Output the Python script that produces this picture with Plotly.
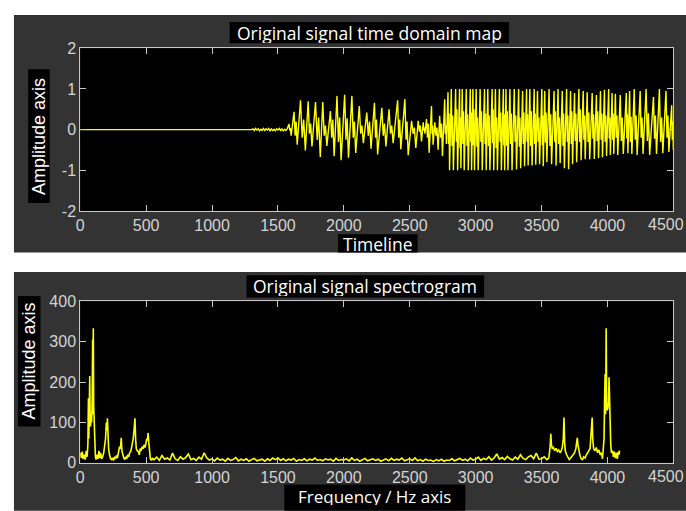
import plotly.graph_objects as go

W, H = 686, 511

# ---------------- time-domain signal ----------------
flat_t = [0, 1300]
flat_v = [0.0, 0.0]

noise_t0, noise_dt = 1310, 10
noise_v = [0.02, -0.02, 0.03, -0.01, 0.02, -0.03, 0.01, -0.02, 0.03, -0.02,
           0.02, -0.01, 0.03, -0.03, 0.02, -0.02, 0.01, -0.03, 0.02, -0.01,
           0.03, -0.02, 0.02, -0.03, 0.01, -0.02, 0.02]

A_pk_t = [1584, 1622, 1671, 1729, 1785, 1840, 1898, 1948, 2006, 2061, 2117, 2174, 2232,
          2288, 2343, 2408, 2463, 2514, 2564, 2602, 2627, 2665, 2690, 2727, 2765]
A_pk_v = [0.14, 0.44, 0.72, 0.70, 0.68, 0.68, 0.46, 0.83, 0.86, 0.83, 0.58, 0.42, 0.66,
          0.54, 0.50, 0.72, 0.75, 0.22, 0.22, 0.18, 0.26, 0.58, 0.18, 0.34, 0.75]
A_tr_t = [1600, 1646, 1708, 1758, 1821, 1871, 1926, 1979, 2035, 2090, 2148, 2206, 2256,
          2319, 2374, 2432, 2488, 2546, 2589, 2615, 2647, 2677, 2715, 2748, 2778]
A_tr_v = [-0.15, -0.37, -0.51, -0.41, -0.67, -0.40, -0.65, -0.75, -0.69, -0.57, -0.33, -0.47, -0.61,
          -0.41, -0.33, -0.48, -0.63, -0.45, -0.29, -0.10, -0.57, -0.37, -0.49, -0.65, -0.35]
A_lo = [-0.02, -0.15, -0.2, -0.1, -0.25, -0.15, -0.2, -0.3, -0.25, -0.2, -0.1, -0.15, -0.2,
        -0.15, -0.1, -0.2, -0.25, -0.1, -0.05, -0.02, -0.2, -0.1, -0.15, -0.2, -0.1]
A_hi = [0.04, 0.2, 0.25, 0.15, 0.3, 0.1, 0.25, 0.3, 0.28, 0.2, 0.1, 0.2, 0.25,
        0.15, 0.1, 0.25, 0.2, 0.05, 0.1, 0.05, 0.15, 0.1, 0.05, 0.15, 0.1]

B_pk_t = [2790, 2815, 2848, 2878, 2898, 2929, 2959, 2979, 3004, 3034, 3067, 3092, 3125, 3150,
          3180, 3210, 3230, 3260, 3293, 3326, 3356, 3386, 3411, 3444, 3469, 3502, 3524, 3557,
          3595, 3625, 3657, 3690, 3720, 3750, 3783, 3816, 3846, 3884, 3916, 3947, 3977, 4009,
          4035, 4060, 4097, 4143, 4168, 4203, 4248, 4293, 4349, 4394, 4444, 4487]
B_pk_v = [0.92, 1.0, 1.0, 1.0, 1.0, 1.0, 1.0, 1.0, 1.0, 1.0, 1.0, 1.0, 1.0, 1.0,
          1.0, 1.0, 1.0, 1.0, 1.0, 1.0, 0.95, 1.0, 1.0, 1.0, 0.95, 1.0, 0.95, 1.0,
          0.95, 1.0, 0.95, 1.0, 0.95, 0.9, 1.0, 0.95, 0.92, 0.9, 0.85, 0.95, 0.98, 1.0,
          0.9, 0.88, 0.85, 0.9, 0.95, 1.0, 0.95, 1.0, 0.8, 1.0, 0.95, 0.6]
B_tr_t = [2802, 2831, 2863, 2888, 2913, 2944, 2969, 2991, 3019, 3050, 3080, 3108, 3137, 3165,
          3195, 3220, 3245, 3276, 3310, 3341, 3371, 3398, 3428, 3456, 3485, 3513, 3540, 3576,
          3610, 3641, 3673, 3705, 3735, 3766, 3800, 3831, 3865, 3900, 3932, 3962, 3993, 4022,
          4048, 4078, 4120, 4155, 4185, 4225, 4270, 4320, 4372, 4420, 4466, 4500]
B_tr_v = [-1.0, -1.0, -1.0, -0.95, -1.0, -1.0, -1.0, -1.0, -1.0, -1.0, -1.0, -1.0, -1.0, -1.0,
          -1.0, -1.0, -1.0, -1.0, -0.98, -0.95, -0.9, -0.88, -0.88, -0.86, -0.85, -0.9, -0.8, -0.85,
          -0.88, -0.82, -0.95, -0.97, -0.85, -0.8, -0.75, -0.73, -0.73, -0.72, -0.7, -0.68, -0.65, -0.62,
          -0.6, -0.62, -0.6, -0.58, -0.6, -0.62, -0.6, -0.62, -0.6, -0.58, -0.55, -0.5]
B_lo = [-0.35, -0.4, -0.3, -0.45, -0.35, -0.4, -0.3, -0.38, -0.42, -0.3, -0.35, -0.4, -0.33, -0.45,
        -0.3, -0.38, -0.4, -0.35, -0.3, -0.42, -0.35, -0.3, -0.4, -0.35, -0.3, -0.38, -0.32, -0.4,
        -0.3, -0.35, -0.4, -0.3, -0.35, -0.28, -0.3, -0.25, -0.3, -0.22, -0.28, -0.25, -0.3, -0.22,
        -0.25, -0.2, -0.28, -0.22, -0.3, -0.25, -0.2, -0.28, -0.22, -0.3, -0.2, -0.25]
B_hi = [0.4, 0.35, 0.5, 0.3, 0.45, 0.38, 0.42, 0.5, 0.3, 0.45, 0.4, 0.35, 0.5, 0.3,
        0.42, 0.38, 0.45, 0.4, 0.35, 0.3, 0.42, 0.38, 0.45, 0.4, 0.3, 0.35, 0.42, 0.38,
        0.45, 0.3, 0.4, 0.35, 0.45, 0.4, 0.5, 0.35, 0.42, 0.38, 0.45, 0.4, 0.35, 0.3,
        0.4, 0.35, 0.3, 0.38, 0.32, 0.35, 0.3, 0.4, 0.35, 0.3, 0.35, 0.2]

# ---------------- spectrum ----------------
spec_lo_f = [0, 8, 15, 22, 30, 38, 45, 52, 58, 62, 65, 68, 72, 75, 78, 82, 86, 90, 94, 96,
             99, 102, 105, 110, 115, 120, 128, 135, 142, 148, 155, 162, 170, 178, 185, 192, 198, 203, 206, 210,
             215, 222, 230, 238, 245, 252, 260, 268, 275, 282, 290, 298, 305, 311, 316, 322, 330, 338, 345, 352,
             360, 368, 375, 385, 395, 402, 408, 415, 420, 425, 432, 440, 448, 455, 462, 470, 478, 485, 492, 500,
             505, 510, 515, 520, 525, 532, 540, 548, 556]
spec_lo_v = [25, 12, 28, 10, 20, 8, 30, 15, 45, 160, 60, 100, 215, 110, 90, 120, 100, 150, 305, 120,
             333, 140, 100, 40, 15, 8, 20, 10, 30, 12, 25, 10, 15, 25, 40, 60, 100, 80, 110, 60,
             35, 20, 10, 8, 12, 6, 15, 10, 18, 12, 25, 40, 35, 62, 30, 20, 12, 8, 15, 10,
             20, 15, 25, 30, 45, 60, 80, 110, 60, 35, 30, 28, 20, 35, 30, 40, 35, 45, 38, 50,
             60, 55, 74, 50, 20, 10, 6, 12, 8]
spec_mid_f0, spec_mid_df = 560, 20
spec_mid_v = [8, 14, 6, 18, 9, 12, 7, 24, 10, 6, 15, 9, 13, 22, 8, 11, 6, 14, 9, 25, 12, 7,
              10, 5, 12, 7, 9, 4, 11, 6, 8, 13, 5, 9, 6, 10, 4, 8, 11, 5, 7, 9, 4, 10, 6, 12, 8,
              12, 6, 10, 5, 9, 7, 11, 4, 8, 6, 10, 5, 9, 7, 12, 6, 8, 5, 10, 7, 9, 4, 11, 6, 8,
              7, 10, 5, 12, 6, 9, 4, 8, 11, 5, 7, 10, 6, 9, 4, 8, 10, 5, 11, 6, 9, 7, 12, 5, 8,
              10, 6, 12, 5, 8, 4, 9, 6, 7, 3, 8, 5, 9, 4, 7, 6, 10, 5, 8, 11, 6, 9, 5, 12, 7,
              9, 14, 6, 11, 8, 15, 7, 12, 22, 9, 13, 8, 16, 10, 7, 14, 9, 20, 11, 8, 15, 18, 10, 24, 9]
spec_hi_f = [3500, 3520, 3540, 3555, 3565, 3570, 3575, 3582, 3590, 3600, 3610, 3620, 3630, 3640, 3650,
             3658, 3665, 3670, 3675, 3680, 3690, 3700, 3710, 3720, 3730, 3740, 3750, 3760, 3766, 3771,
             3776, 3782, 3790, 3800, 3810, 3820, 3830, 3840, 3850, 3860, 3868, 3875, 3880, 3884, 3888,
             3895, 3905, 3915, 3925, 3935, 3945, 3955, 3962, 3968, 3974, 3978, 3982, 3986, 3990, 3994,
             3998, 4003, 4008, 4012, 4016, 4020, 4025, 4030, 4038, 4045, 4052, 4060, 4068, 4075, 4082,
             4088, 4092]
spec_hi_v = [10, 15, 8, 12, 40, 72, 45, 35, 38, 30, 36, 28, 32, 25, 30,
             40, 60, 112, 50, 30, 20, 12, 8, 12, 15, 20, 25, 35, 50, 62,
             45, 30, 20, 10, 8, 15, 12, 20, 25, 28, 35, 70, 100, 112, 60,
             35, 30, 38, 25, 32, 20, 25, 10, 30, 60, 150, 220, 120, 333, 140,
             130, 135, 150, 212, 130, 100, 45, 25, 30, 15, 28, 12, 25, 10, 28,
             20, 30]

# ---------------- ticks ----------------
x_ticks = [0, 500, 1000, 1500, 2000, 2500, 3000, 3500, 4000, 4500]
x_ticktext = [str(v) for v in x_ticks]
y1_ticks = [-2, -1, 0, 1, 2]
y1_ticktext = ["-2", "-1", "0", "1", "2"]
y2_ticks = [0, 100, 200, 300, 400]
y2_ticktext = ["0", "100", "200", "300", "400"]

# ---------------- build series ----------------
sig_t = list(flat_t)
sig_v = list(flat_v)
for i, v in enumerate(noise_v):
    sig_t.append(noise_t0 + i * noise_dt)
    sig_v.append(v)
for pk_t, pk_v, tr_t, tr_v, lo, hi in (
        (A_pk_t, A_pk_v, A_tr_t, A_tr_v, A_lo, A_hi),
        (B_pk_t, B_pk_v, B_tr_t, B_tr_v, B_lo, B_hi)):
    for i in range(len(pk_t)):
        d = tr_t[i] - pk_t[i]
        sig_t += [pk_t[i], pk_t[i] + 0.35 * d, pk_t[i] + 0.65 * d, tr_t[i]]
        sig_v += [pk_v[i], lo[i], hi[i], tr_v[i]]

spec_f = list(spec_lo_f) + [spec_mid_f0 + i * spec_mid_df for i in range(len(spec_mid_v))] + list(spec_hi_f)
spec_v = list(spec_lo_v) + list(spec_mid_v) + list(spec_hi_v)

# ---------------- figure ----------------
def px_x(x):
    return x / W

def px_y(y):
    return 1 - y / H

X0, X1 = 76.7, 673.3
T_TOP, T_BOT = 41.7, 210.0
S_TOP, S_BOT = 303.3, 470.5

fig = go.Figure()
fig.add_trace(go.Scatter(x=sig_t, y=sig_v, mode="lines", line=dict(color="#ffff00", width=1.4),
                         xaxis="x", yaxis="y", hoverinfo="skip"))
fig.add_trace(go.Scatter(x=spec_f, y=spec_v, mode="lines", line=dict(color="#ffff00", width=1.6),
                         xaxis="x2", yaxis="y2", hoverinfo="skip"))

tick_font = dict(family="Liberation Sans", size=16, color="#d4d4d4")
axis_common = dict(showline=True, linecolor="#c8c8c8", linewidth=1, mirror="ticks",
                   ticks="inside", ticklen=6, tickcolor="#c8c8c8", tickwidth=1,
                   showgrid=False, zeroline=False, tickfont=tick_font)

def rect(x0, y0, x1, y1, color):
    return dict(type="rect", xref="paper", yref="paper", layer="below",
                x0=px_x(x0), x1=px_x(x1), y0=px_y(y1), y1=px_y(y0),
                fillcolor=color, line=dict(width=0))

GRAY = "#333333"
shapes = [
    rect(10, 7.3, 700, 253, GRAY),
    rect(10, 273, 700, 520, GRAY),
    rect(X0, T_TOP, X1, T_BOT, "#000000"),
    rect(X0, S_TOP, X1, S_BOT, "#000000"),
    rect(227, 14.5, 508, 36.5, "#000000"),
    rect(24.3, 63.3, 46, 201.7, "#000000"),
    rect(336, 234, 416, 253, "#000000"),
    rect(244, 276.5, 483, 299.5, "#000000"),
    rect(14, 298, 36.7, 433, "#000000"),
    rect(282, 493, 464, 520, "#000000"),
]

lab_font = dict(family="Open Sans", size=17.5, color="#ffffff")
freq_font = dict(family="Open Sans", size=17, color="#ffffff")
ylab_font = dict(family="Liberation Sans", size=18, color="#ffffff")

def ann(text, x, y, font, angle=0, xanchor="center", height=None):
    a = dict(text=text, xref="paper", yref="paper", x=px_x(x), y=px_y(y),
             xanchor=xanchor, yanchor="middle", showarrow=False, font=font, textangle=angle)
    if height is not None:
        a["height"] = height
    return a

annotations = [
    ann("Original signal time domain map", 367.5, 25.5, lab_font, height=20),
    ann("Timeline", 376, 244, lab_font, height=18),
    ann("Amplitude axis", 35.2, 132.5, ylab_font, -90),
    ann("Original signal spectrogram", 363.5, 288, lab_font, height=20),
    ann("Frequency / Hz axis", 373, 505.5, freq_font, height=17),
    ann("Amplitude axis", 25.4, 365.5, ylab_font, -90),
    # last x tick label, which runs off the page edge in the reference
    ann(x_ticktext[-1], 686, 224, tick_font, xanchor="right"),
    ann(x_ticktext[-1], 686, 485, tick_font, xanchor="right"),
]

fig.update_layout(
    width=W, height=H, margin=dict(l=0, r=0, t=0, b=0),
    paper_bgcolor="#ffffff", plot_bgcolor="rgba(0,0,0,0)", showlegend=False,
    shapes=shapes, annotations=annotations,
    xaxis=dict(axis_common, domain=[px_x(X0), px_x(X1)], range=[0, 4500],
               tickvals=x_ticks, ticktext=x_ticktext, anchor="y"),
    yaxis=dict(axis_common, domain=[px_y(T_BOT), px_y(T_TOP)], range=[-2, 2],
               tickvals=y1_ticks, ticktext=y1_ticktext, anchor="x"),
    xaxis2=dict(axis_common, domain=[px_x(X0), px_x(X1)], range=[0, 4500],
                tickvals=x_ticks, ticktext=x_ticktext, anchor="y2"),
    yaxis2=dict(axis_common, domain=[px_y(S_BOT), px_y(S_TOP)], range=[0, 400],
                tickvals=y2_ticks, ticktext=y2_ticktext, anchor="x2"),
)

fig.write_html("out.html", config={"displayModeBar": False, "responsive": False})
